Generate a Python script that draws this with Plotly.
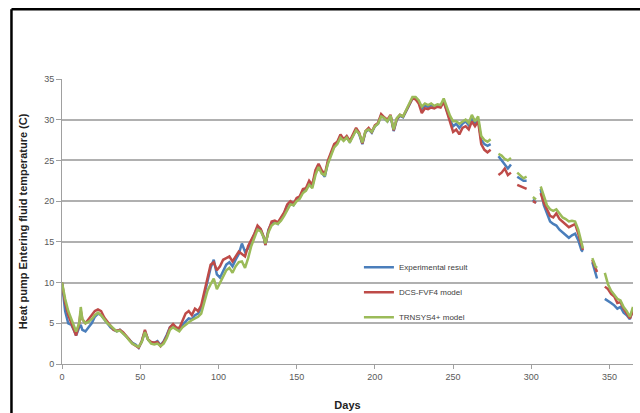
import plotly.graph_objects as go

days = [0, 2, 4, 6, 8, 9, 11, 12, 13, 15, 17, 19, 21, 23, 25, 27, 29, 31, 33, 35, 37, 39, 41, 43, 45, 47, 49,
        51, 53, 55, 57, 59, 61, 63, 65, 67, 69, 71, 73, 75, 77, 79, 81, 83, 85, 87, 89, 91, 93, 95, 97, 99,
        101, 103, 105, 107, 109, 111, 113, 115, 117, 119, 121, 123, 125, 127, 129, 130, 132, 134, 136, 138,
        140, 142, 144, 146, 148, 150, 152, 154, 156, 158, 160, 162, 164, 166, 168, 170, 172, 174, 176, 178,
        180, 182, 184, 186, 188, 190, 192, 194, 196, 198, 200, 202, 204, 206, 208, 210, 212, 214, 216, 218,
        220, 222, 224, 226, 228, 230, 232, 234, 236, 238, 240, 242, 244, 246, 248, 250, 252, 254, 256, 258,
        260, 262, 264, 266, 268, 270, 272, 274, 275, 279, 281, 283, 285, 287, 288, 291, 293, 295, 297, 298,
        301, 303, 304, 306, 308, 310, 312, 314, 316, 318, 320, 322, 324, 326, 328, 330, 332, 333, 334,
        339, 341, 342, 343, 347, 349, 351, 353, 355, 357, 359, 361, 363, 365]

experimental = [10, 6.5, 5, 4.8, 4, 3.5, 4.5, 4.8, 4.2, 4, 4.5, 5, 5.8, 6.2, 6, 5.5, 5, 4.5, 4.2, 4, 4.2, 3.8, 3.5, 3, 2.6, 2.4, 2,
                2.8, 4, 3, 2.6, 2.6, 2.8, 2.3, 2.8, 3.6, 4.5, 4.8, 4.3, 4.2, 4.8, 5.2, 5.6, 5.5, 6, 6.2, 6.8, 8.5, 10, 11.8, 12.8, 11,
                10.6, 11.5, 12.2, 12.5, 12, 12.8, 13.5, 14.8, 13.8, 14.2, 15, 15.8, 16.8, 16.5, 15.5, 14.6, 16.5, 17.3, 17.5, 17.2,
                17.8, 18.5, 19.5, 19.8, 19.5, 20.2, 20.5, 21.2, 21.5, 22.2, 21.8, 23.5, 24.5, 23.5, 23, 24.8, 25.8, 26.8, 27.2, 28,
                27.5, 27.8, 27.3, 28, 28.8, 28.2, 27, 28.5, 28.8, 28.4, 29.2, 29.5, 30.5, 30.2, 29.8, 30.5, 28.6, 30, 30.5, 30.3,
                31, 31.8, 32.6, 32.7, 32.2, 31.3, 31.8, 31.5, 31.8, 31.6, 31.8, 31.7, 32.3, 31.2, 30, 29.2, 29.5, 29, 29.5, 29.8,
                29.3, 30.2, 29.4, 30, 27.5, 27, 26.8, 27, None, 25.5, 25, 24.5, 24, 24.5, None, 23, 22.8, 22.5, 22.5, None,
                20.2, 19.8, None, 21.5, 19.5, 18.5, 17.5, 17.2, 17, 16.5, 16.2, 15.8, 15.5, 15.8, 16, 15.2, 14, 13.8, None,
                12.5, 11, 10.5, None, 8, 7.8, 7.5, 7.2, 6.8, 7, 6.3, 6, 5.5, 6.8]

dcs_model = [10, 7.5, 6, 5, 4, 3.5, 5, 6.5, 5.5, 5, 5.5, 6, 6.5, 6.7, 6.5, 5.7, 5.2, 4.6, 4.2, 4.1, 4.2, 3.9, 3.5, 3, 2.5, 2.3, 2,
             2.8, 4.2, 3, 2.7, 2.6, 2.7, 2.2, 2.7, 3.4, 4.5, 4.9, 4.5, 4.4, 5.3, 6.2, 6.5, 6, 6.8, 6.5, 7.2, 9, 10.5, 12.2, 12.5, 11.5,
             12, 12.8, 13, 13.2, 12.6, 13.2, 13.8, 13.5, 13.2, 14.5, 15.2, 16, 17, 16.6, 15.6, 14.6, 16.4, 17.5, 17.6, 17.4,
             18, 18.6, 19.6, 20, 19.7, 20.4, 20.6, 21.5, 21.6, 22.5, 22, 23.8, 24.6, 23.8, 23.3, 25, 26, 27, 27.3, 28.2,
             27.6, 28, 27.4, 28.2, 29, 28.4, 27.1, 28.6, 29, 28.5, 29.3, 29.6, 30.7, 30.3, 30, 30.6, 28.7, 30.1, 30.6, 30.4,
             31.2, 31.9, 32.6, 32.5, 32, 30.8, 31.4, 31.3, 31.5, 31.4, 31.6, 31.5, 32.2, 31, 29.8, 28.5, 28.8, 28.2, 29, 29.2,
             28.8, 29.8, 29.2, 29.8, 27, 26.3, 26, 26.3, None, 23.2, 23.5, 24, 23.2, 23.5, None, 22, 21.8, 21.6, 21.5, None,
             20, 19.8, None, 21, 19.8, 19, 18.2, 18, 18.5, 17.8, 17.5, 17.2, 16.8, 17, 17.2, 16, 14.5, 14, None,
             12.8, 11.8, 11.3, None, 9.5, 9.2, 8.6, 8.3, 7.5, 7.6, 6.8, 6.2, 5.6, 6.5]

trnsys_model = [10, 8, 6.5, 5.5, 4.5, 4, 5, 7, 5.5, 5, 5.2, 5.5, 6, 6.3, 6, 5.5, 5, 4.7, 4.3, 4, 4.1, 3.8, 3.4, 2.9, 2.5, 2.3, 2.1,
                2.7, 3.9, 3, 2.5, 2.4, 2.5, 2.2, 2.5, 3.2, 4.2, 4.5, 4.2, 4, 4.5, 4.8, 5.2, 5.4, 5.6, 5.8, 6.2, 7.5, 9, 9.8, 10.5, 9.2,
                10, 10.8, 11.5, 11.8, 11.2, 12, 12.5, 12.6, 11.8, 13, 14.5, 15.5, 16.5, 16.3, 15.5, 14.8, 16.2, 17, 17.3, 17.2,
                17.6, 18.2, 19, 19.6, 19.5, 20, 20.3, 21, 21.3, 22, 21.6, 23.2, 24.2, 23.4, 23.2, 24.6, 25.6, 26.6, 27, 27.8,
                27.4, 27.8, 27.2, 28, 28.7, 28.3, 27.2, 28.6, 28.8, 28.5, 29.2, 29.5, 30.4, 30.2, 29.8, 30.5, 28.8, 30.2, 30.6, 30.4,
                31.3, 32, 32.8, 32.8, 32.4, 31.6, 32, 31.8, 32, 31.7, 31.9, 31.8, 32.6, 31.5, 30.5, 29.8, 29.8, 29.5, 29.8, 30,
                29.6, 30.6, 29.8, 30.4, 28, 27.5, 27.3, 27.6, None, 25.8, 25.6, 25.2, 25, 25.3, None, 23.5, 23.2, 22.8, 23, None,
                20.5, 20.2, None, 21.8, 20.5, 19.5, 19, 18.8, 19, 18.5, 18, 17.8, 17.5, 17.6, 17.5, 16.5, 15, 14.2, None,
                13, 12, 11.8, None, 11.2, 9.8, 9, 8.5, 8, 7.8, 7, 6.5, 5.8, 7]

series_names = ["Experimental result", "DCS-FVF4 model", "TRNSYS4+ model"]
series_colors = ["#4A7EBB", "#BE4B48", "#9BBB59"]
x_ticks = [0, 50, 100, 150, 200, 250, 300, 350]
y_ticks = [0, 5, 10, 15, 20, 25, 30, 35]

fig = go.Figure()
for i, (name, vals, col) in enumerate(zip(series_names, [experimental, dcs_model, trnsys_model], series_colors)):
    fig.add_trace(go.Scatter(
        x=days, y=vals, mode="lines", name=name, legendgroup=f"g{i}",
        line=dict(color=col, width=2.5), connectgaps=False,
    ))

fig.update_layout(
    width=640, height=413,
    margin=dict(l=62, r=7, t=79, b=49),
    paper_bgcolor="white", plot_bgcolor="white",
    font=dict(family="Liberation Sans, Arial, sans-serif", color="#595959", size=9),
    showlegend=True,
    legend=dict(
        x=0.52, y=0.39, xanchor="left", yanchor="top",
        bgcolor="rgba(0,0,0,0)", font=dict(size=8, color="#404040"),
        tracegroupgap=6, itemwidth=30,
    ),
    xaxis=dict(
        range=[0, 365], tickvals=x_ticks, showgrid=False, zeroline=False, automargin=False,
        showline=True, linecolor="#A0A0A0", linewidth=1,
        ticks="outside", ticklen=4, tickcolor="#A0A0A0",
        tickfont=dict(size=9, color="#595959"),
        title=dict(text="<b>Days</b>", font=dict(size=11, color="#222222"), standoff=20),
    ),
    yaxis=dict(
        range=[0, 35], tickvals=y_ticks, showgrid=True, gridcolor="#B0B0B0", gridwidth=1.5,
        zeroline=False, showline=True, linecolor="#A0A0A0", linewidth=1, automargin=False,
        ticks="outside", ticklen=5, tickcolor="#A0A0A0",
        tickfont=dict(size=9, color="#595959"),
        title=dict(text="<b>Heat pump Entering fluid temperature (C)</b>",
                   font=dict(size=11, color="#222222"), standoff=14),
    ),
)

# outer black frame (top and left edges, as in the reference image)
fig.add_shape(type="line", xref="paper", yref="paper", x0=-0.0885, x1=1.05, y0=1.245, y1=1.245,
              line=dict(color="black", width=2.5))
fig.add_shape(type="line", xref="paper", yref="paper", x0=-0.0885, x1=-0.0885, y0=1.245, y1=-0.18,
              line=dict(color="black", width=2.5))

fig.write_html("out.html", config={"displayModeBar": False},
               post_script="document.body.style.margin='0';document.body.style.overflow='hidden';")
